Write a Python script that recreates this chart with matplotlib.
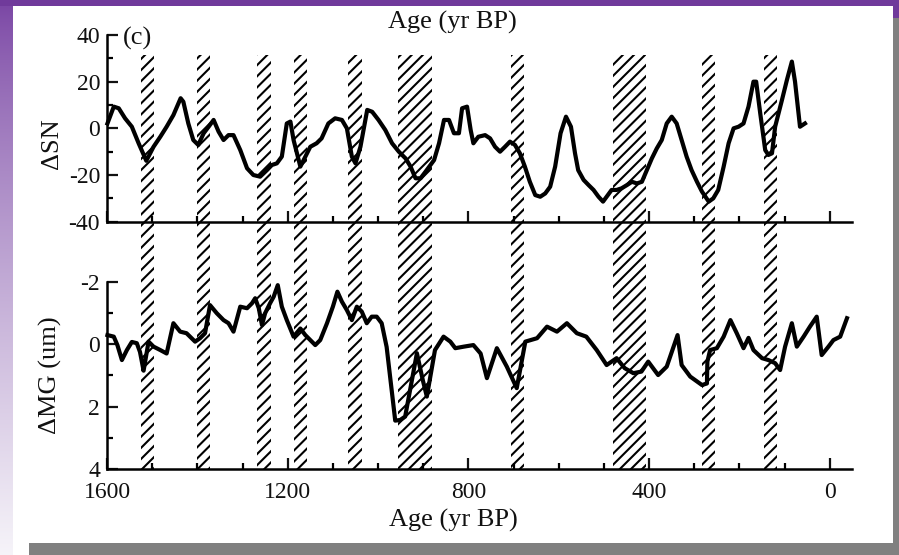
import numpy as np
import matplotlib
matplotlib.use("Agg")
import matplotlib.pyplot as plt
from matplotlib.patches import Rectangle
from matplotlib.ticker import MultipleLocator
from matplotlib.transforms import blended_transform_factory
from matplotlib.colors import to_rgb

# ---- data ---------------------------------------------------------------
sn_age = [1599, 1585, 1574, 1560, 1545, 1530, 1513, 1497, 1482, 1468, 1453,
          1437, 1431, 1420, 1409, 1398, 1386, 1375, 1364, 1353, 1342, 1331,
          1320, 1305, 1290, 1276, 1261, 1246, 1235, 1224, 1213, 1202, 1194,
          1187, 1172, 1161, 1150, 1136, 1125, 1110, 1095, 1080, 1069, 1058,
          1050, 1039, 1024, 1013, 999, 984, 969, 954, 939, 928, 917, 906,
          895, 876, 865, 854, 843, 832, 821, 814, 803, 795, 789, 778, 763,
          752, 741, 730, 719, 708, 697, 686, 675, 664, 652, 641, 630, 619,
          608, 596, 584, 573, 564, 557, 545, 534, 523, 512, 502, 494, 483,
          472, 461, 449, 438, 427, 416, 405, 394, 383, 372, 361, 350, 339,
          328, 317, 306, 294, 283, 268, 258, 247, 235, 224, 213, 202, 191,
          180, 169, 163, 154, 143, 136, 128, 121, 106, 95, 84, 77, 66, 55]
sn_val = [2.1, 9.3, 8.6, 4.3, 0.7, -6.4, -13.9, -7.9, -3.6, 0.7, 5.7,
          12.9, 11.4, 2.1, -5.0, -7.1, -2.1, 0.7, 3.6, -1.4, -5.0, -2.9,
          -2.9, -9.3, -17.1, -20.0, -20.7, -17.9, -15.7, -15.0, -12.1, 2.1, 2.9,
          -5.0, -16.4, -12.1, -7.9, -6.4, -4.3, 2.1, 4.3, 3.6, 0.0, -12.1,
          -15.0, -7.9, 7.9, 7.1, 3.6, -0.7, -6.4, -10.0, -12.9, -16.4, -21.4, -21.4,
          -18.6, -13.6, -6.4, 3.6, 3.6, -2.1, -2.1, 8.6, 9.3, -0.7, -6.4, -3.6, -2.9,
          -4.3, -7.9, -10.0, -7.9, -5.7, -7.1, -10.7, -16.4, -22.9, -28.6, -29.3, -27.9, -25.0,
          -16.4, -2.1, 5.0, 0.7, -10.7, -17.9, -22.1, -24.3, -26.4, -29.3, -31.4, -29.3, -26.4,
          -26.4, -25.7, -24.3, -22.9, -23.6, -22.9, -17.9, -12.9, -8.6, -5.0, 2.1, 5.0, 2.1,
          -5.0, -12.1, -17.9, -22.9, -27.1, -31.4, -30.0, -26.4, -16.4, -6.4, 0.0, 0.7, 2.1,
          9.3, 20.0, 20.0, 6.4, -9.3, -11.4, -10.7, 0.7, 12.1, 20.7, 28.6, 20.0, 0.7, 2.1]

mg_age = [1599, 1585, 1577, 1567, 1556, 1545, 1534, 1527, 1519, 1508, 1497,
          1482, 1468, 1453, 1438, 1424, 1405, 1394, 1383, 1372, 1357, 1342,
          1331, 1320, 1305, 1290, 1279, 1272, 1264, 1257, 1250, 1239, 1231,
          1222, 1213, 1202, 1187, 1172, 1161, 1150, 1139, 1128, 1113, 1100,
          1090, 1080, 1069, 1058, 1047, 1036, 1025, 1014, 1003, 992, 981,
          962, 951, 940, 914, 901, 892, 874, 855, 840, 829, 810, 789, 773,
          759, 737, 715, 693, 674, 648, 626, 604, 582, 560, 539, 516, 494,
          472, 454, 435, 417, 402, 380, 361, 337, 328, 309, 283, 272, 271,
          265, 250, 235, 220, 206, 191, 180, 169, 150, 136, 121, 110, 99,
          84, 73, 58, 44, 29, 18, 3, -8, -23, -38]
mg_val = [-0.29, -0.24, 0.03, 0.51, 0.19, -0.07, -0.03, 0.25, 0.85, -0.08, 0.08,
          0.19, 0.30, -0.67, -0.40, -0.35, -0.08, -0.19, -0.35, -1.25, -0.99, -0.77,
          -0.67, -0.40, -1.20, -1.15, -1.31, -1.47, -1.15, -0.61, -0.99, -1.31, -1.52,
          -1.89, -1.20, -0.77, -0.24, -0.50, -0.29, -0.13, 0.03, -0.13, -0.67, -1.20,
          -1.68, -1.36, -1.09, -0.77, -1.20, -1.04, -0.67, -0.88, -0.88, -0.67, 0.09,
          2.45, 2.43, 2.32, 0.29, 1.15, 1.68, 0.19, -0.24, -0.08, 0.13, 0.08, 0.03, 0.30,
          1.09, 0.13, 0.72, 1.41, -0.08, -0.19, -0.56, -0.40, -0.67, -0.35, -0.24, 0.19, 0.67,
          0.45, 0.77, 0.93, 0.88, 0.56, 0.99, 0.72, -0.29, 0.67, 1.04, 1.31, 1.26, 0.56,
          0.19, 0.13, -0.24, -0.77, -0.35, 0.13, -0.20, 0.19, 0.45, 0.51, 0.61, 0.83, 0.08,
          -0.67, 0.08, -0.24, -0.56, -0.88, 0.35, 0.08, -0.13, -0.24, -0.83]

# shaded intervals (yr BP)
band_start = [1525, 1401, 1267, 1187, 1066, 956, 706, 479, 283, 145]
band_end = [1497, 1372, 1237, 1158, 1036, 881, 678, 407, 255, 116]

age_ticks = [1600, 1200, 800, 400, 0]
sn_ticks = [40, 20, 0, -20, -40]
mg_ticks = [-2, 0, 2, 4]

# ---- style --------------------------------------------------------------
plt.rcParams["font.family"] = ["Liberation Serif", "DejaVu Serif"]
plt.rcParams["axes.unicode_minus"] = False
plt.rcParams["hatch.linewidth"] = 1.5

W, H = 899, 555
fig = plt.figure(figsize=(W / 100, H / 100), dpi=100)
fig.patch.set_facecolor("white")


def px_box(left, top, right, bottom):
    return [left / W, 1 - bottom / H, (right - left) / W, (bottom - top) / H]


# slide-like backdrop: purple frame with grey drop shadow
bg = np.ones((H, W, 3))
rows = np.arange(H)
t = np.clip((rows - 6) / (H - 6), 0, 1) ** 0.8
c_top = np.array(to_rgb("#7b47a5"))
c_bot = np.array(to_rgb("#f6f4f9"))
grad = c_top * (1 - t[:, None]) + c_bot * t[:, None]
bg[:, :13] = grad[:, None, :]
bg[:6, :] = to_rgb("#703a9b")
bg[6:18, 893:] = to_rgb("#703a9b")
bg[18:, 893:] = to_rgb("#808080")
bg[543:, 29:] = to_rgb("#808080")
ax_bg = fig.add_axes([0, 0, 1, 1], zorder=-10)
ax_bg.imshow(bg, aspect="auto", extent=(0, W, H, 0), interpolation="bilinear")
ax_bg.set_axis_off()

ax_top = fig.add_axes(px_box(107, 35, 852.4, 221.7))
ax_bot = fig.add_axes(px_box(107, 281.7, 852.4, 469))

for ax in (ax_top, ax_bot):
    ax.set_facecolor("none")
    ax.set_xlim(1600, -50)
    ax.set_xticks(age_ticks)
    ax.xaxis.set_minor_locator(MultipleLocator(100))
    for side in ("top", "right"):
        ax.spines[side].set_visible(False)
    for side in ("left", "bottom"):
        ax.spines[side].set_linewidth(1.8)
    ax.tick_params(which="major", direction="in", length=8, width=1.6,
                   labelsize=17, pad=5, colors="#111111")
    ax.tick_params(which="minor", direction="in", length=4, width=1.6)
    ax.tick_params(axis="x", which="major", pad=9)

ax_top.set_ylim(-40, 40)
ax_top.set_yticks(sn_ticks)
ax_top.yaxis.set_minor_locator(MultipleLocator(10))
ax_top.tick_params(axis="x", labelbottom=False)

ax_bot.set_ylim(4, -2)
ax_bot.set_yticks(mg_ticks)
ax_bot.yaxis.set_minor_locator(MultipleLocator(1))

# hatched intervals spanning both panels
band_tf = blended_transform_factory(ax_top.transData, fig.transFigure)
y_hi = 1 - 55 / H
y_lo = 1 - 469 / H
for s, e in zip(band_start, band_end):
    fig.add_artist(Rectangle((s, y_lo), e - s, y_hi - y_lo, transform=band_tf,
                             facecolor="none", edgecolor="black", linewidth=0,
                             hatch="///", zorder=-1))

ax_top.plot(sn_age, sn_val, color="black", linewidth=3.0,
            solid_joinstyle="round", clip_on=False)
ax_bot.plot(mg_age, mg_val, color="black", linewidth=3.0,
            solid_joinstyle="round", clip_on=False)

fig.text(452 / W, 1 - 22 / H, "Age (yr BP)", ha="center", va="center",
         fontsize=19, color="#111111")
fig.text(453 / W, 1 - 520 / H, "Age (yr BP)", ha="center", va="center",
         fontsize=19, color="#111111")
fig.text(52 / W, 1 - 144 / H, "ΔSN", rotation=90, ha="center", va="center",
         fontsize=19, color="#111111")
fig.text(50 / W, 1 - 375 / H, "ΔMG (um)", rotation=90, ha="center",
         va="center", fontsize=19, color="#111111")
fig.text(123 / W, 1 - 38 / H, "(c)", ha="left", va="center", fontsize=19,
         color="#111111")

fig.savefig("out.png", dpi=100)
